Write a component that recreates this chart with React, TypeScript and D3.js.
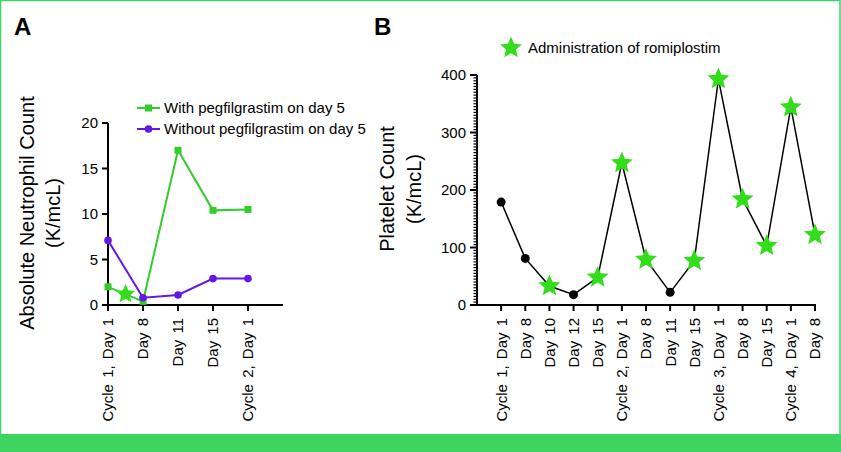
import React from "react";
import * as d3 from "d3";

// ---------- Data ----------
const catsA = ["Cycle 1, Day 1", "Day 8", "Day 11", "Day 15", "Cycle 2, Day 1"];
const withPegX = [0, 0.5, 1, 2, 3, 4];
const withPegY = [2.0, 1.2, 0.4, 17.0, 10.4, 10.5];
const withPegStar = [false, true, false, false, false, false];
const withoutPegY = [7.1, 0.8, 1.1, 2.9, 2.9];
const ticksA = [0, 5, 10, 15, 20];

const catsB = [
  "Cycle 1, Day 1", "Day 8", "Day 10", "Day 12", "Day 15",
  "Cycle 2, Day 1", "Day 8", "Day 11", "Day 15",
  "Cycle 3, Day 1", "Day 8", "Day 15", "Cycle 4, Day 1", "Day 8",
];
const plateletY = [179, 81, 33, 18, 48, 247, 79, 22, 77, 393, 184, 103, 344, 122];
const romiplostim = [false, false, true, false, true, true, true, false, true, true, true, true, true, true];
const ticksB = [0, 100, 200, 300, 400];

// ---------- Style ----------
const FONT = "'Liberation Sans', Arial, Helvetica, sans-serif";
const GREEN_LINE = "#33cc2a";
const STAR_GREEN = "#33dd1c";
const PURPLE = "#6418e6";
const BORDER = "#3dd55f";

function starPath(cx: number, cy: number, R: number, r: number) {
  const pts: [number, number][] = [];
  for (let i = 0; i < 10; i++) {
    const a = -Math.PI / 2 + (i * Math.PI) / 5;
    const rad = i % 2 === 0 ? R : r;
    pts.push([cx + rad * Math.cos(a), cy + rad * Math.sin(a)]);
  }
  return "M" + pts.map((p) => p[0].toFixed(2) + "," + p[1].toFixed(2)).join("L") + "Z";
}

export default function App() {
  // Panel A scales
  const xA = d3.scaleLinear().domain([0, 5]).range([108, 283]);
  const yA = d3.scaleLinear().domain([0, 20]).range([305, 123]);
  // Panel B scales
  const xB = d3.scaleLinear().domain([-1, 13]).range([477, 815]);
  const yB = d3.scaleLinear().domain([0, 400]).range([305, 75]);

  const lineA = d3.line<[number, number]>().x((d) => xA(d[0])).y((d) => yA(d[1]));
  const greenPts: [number, number][] = withPegX.map((x, i) => [x, withPegY[i]]);
  const purplePts: [number, number][] = withoutPegY.map((v, i) => [i, v]);
  const lineB = d3.line<number>().x((_, i) => xB(i)).y((d) => yB(d));

  const minorB = d3.range(0, 401, 5).filter((v) => v % 100 !== 0);

  return (
    <svg width={841} height={452} style={{ position: "absolute", left: 0, top: 0, background: "#fff" }} fontFamily={FONT}>
      <style>{"body{margin:0}"}</style>
      <rect x={0.5} y={0.5} width={839.5} height={451} fill="#fff" stroke={BORDER} strokeWidth={1.5} />
      <rect x={0} y={434} width={841} height={18} fill={BORDER} />

      {/* Panel labels */}
      <text x={14} y={35} fontSize={24} fontWeight="bold">A</text>
      <text x={374} y={35} fontSize={24} fontWeight="bold">B</text>

      {/* ---------- Panel A ---------- */}
      <g>
        <text transform={`translate(34,213) rotate(-90)`} textAnchor="middle" fontSize={20}>Absolute Neutrophil Count</text>
        <text transform={`translate(60,213) rotate(-90)`} textAnchor="middle" fontSize={20}>(K/mcL)</text>

        {/* axes */}
        <line x1={xA(0)} x2={xA(0)} y1={yA(20)} y2={yA(0)} stroke="#000" strokeWidth={2} />
        <line x1={xA(0) - 1} x2={xA(5)} y1={yA(0)} y2={yA(0)} stroke="#000" strokeWidth={2} />
        {ticksA.map((t) => (
          <g key={t}>
            <line x1={xA(0) - 6} x2={xA(0)} y1={yA(t)} y2={yA(t)} stroke="#000" strokeWidth={2} />
            <text x={xA(0) - 10} y={yA(t)} dy="0.36em" textAnchor="end" fontSize={15}>{t}</text>
          </g>
        ))}
        {catsA.map((c, i) => (
          <g key={i}>
            <line x1={xA(i)} x2={xA(i)} y1={yA(0)} y2={yA(0) + 6} stroke="#000" strokeWidth={2} />
            <text transform={`translate(${xA(i)},318) rotate(-90)`} dy="0.36em" textAnchor="end" fontSize={15} wordSpacing={2}>{c}</text>
          </g>
        ))}

        {/* series */}
        <path d={lineA(greenPts) || ""} fill="none" stroke={GREEN_LINE} strokeWidth={2} />
        {greenPts.map((p, i) =>
          withPegStar[i] ? null : (
            <rect key={i} x={xA(p[0]) - 3.5} y={yA(p[1]) - 3.5} width={7} height={7} fill={GREEN_LINE} />
          )
        )}
        <path d={lineA(purplePts) || ""} fill="none" stroke={PURPLE} strokeWidth={2} />
        {purplePts.map((p, i) => (
          <circle key={i} cx={xA(p[0])} cy={yA(p[1])} r={3.8} fill={PURPLE} />
        ))}
        {greenPts.map((p, i) =>
          withPegStar[i] ? (
            <path key={"s" + i} d={starPath(xA(p[0]), yA(p[1]), 10, 4.6)} fill={STAR_GREEN} />
          ) : null
        )}

        {/* legend */}
        <line x1={137} x2={160} y1={108} y2={108} stroke={GREEN_LINE} strokeWidth={2} />
        <rect x={145} y={104.5} width={7} height={7} fill={GREEN_LINE} />
        <text x={164} y={108} dy="0.36em" fontSize={15}>With pegfilgrastim on day 5</text>
        <line x1={137} x2={160} y1={129} y2={129} stroke={PURPLE} strokeWidth={2} />
        <circle cx={148.5} cy={129} r={3.8} fill={PURPLE} />
        <text x={164} y={129} dy="0.36em" fontSize={15}>Without pegfilgrastim on day 5</text>
      </g>

      {/* ---------- Panel B ---------- */}
      <g>
        <text transform={`translate(394,189) rotate(-90)`} textAnchor="middle" fontSize={20}>Platelet Count</text>
        <text transform={`translate(421,189) rotate(-90)`} textAnchor="middle" fontSize={20}>(K/mcL)</text>

        <line x1={xB(-1)} x2={xB(-1)} y1={yB(400)} y2={yB(0)} stroke="#000" strokeWidth={2} />
        <line x1={xB(-1) - 1} x2={xB(13) + 1} y1={yB(0)} y2={yB(0)} stroke="#000" strokeWidth={2} />
        {minorB.map((t) => (
          <line key={"m" + t} x1={xB(-1) - 3.5} x2={xB(-1)} y1={yB(t)} y2={yB(t)} stroke="#000" strokeWidth={1.2} />
        ))}
        {ticksB.map((t) => (
          <g key={t}>
            <line x1={xB(-1) - 7} x2={xB(-1)} y1={yB(t)} y2={yB(t)} stroke="#000" strokeWidth={2} />
            <text x={xB(-1) - 11} y={yB(t)} dy="0.36em" textAnchor="end" fontSize={15}>{t}</text>
          </g>
        ))}
        {catsB.map((c, i) => (
          <g key={i}>
            <line x1={xB(i)} x2={xB(i)} y1={yB(0)} y2={yB(0) + 6} stroke="#000" strokeWidth={2} />
            <text transform={`translate(${xB(i)},318) rotate(-90)`} dy="0.36em" textAnchor="end" fontSize={15} wordSpacing={2}>{c}</text>
          </g>
        ))}

        <path d={lineB(plateletY) || ""} fill="none" stroke="#000" strokeWidth={1.5} />
        {plateletY.map((v, i) =>
          romiplostim[i] ? (
            <path key={i} d={starPath(xB(i), yB(v), 11.5, 5.2)} fill={STAR_GREEN} />
          ) : (
            <circle key={i} cx={xB(i)} cy={yB(v)} r={4.5} fill="#000" />
          )
        )}

        {/* legend */}
        <path d={starPath(511, 48, 11.5, 5.2)} fill={STAR_GREEN} />
        <text x={528} y={48} dy="0.36em" fontSize={15}>Administration of romiplostim</text>
      </g>
    </svg>
  );
}
